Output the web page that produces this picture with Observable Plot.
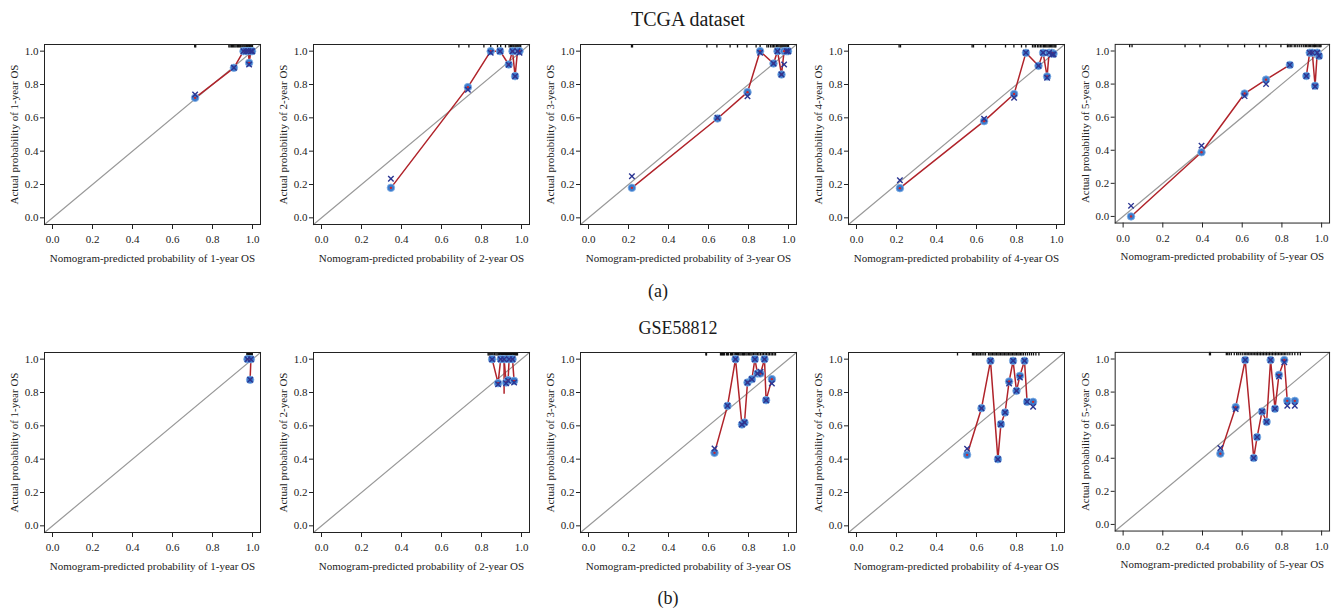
<!DOCTYPE html>
<html><head><meta charset="utf-8">
<script src="https://cdn.jsdelivr.net/npm/d3@7"></script>
<script src="https://cdn.jsdelivr.net/npm/@observablehq/plot@0.6"></script>
<style>
body{margin:0;background:#fff;}
#root{position:relative;width:1337px;height:610px;overflow:hidden;font-family:"Liberation Serif",serif;color:#1a1a1a;background:#fff;}
.t{position:absolute;transform:translate(-50%,-50%);white-space:nowrap;font-size:18px;line-height:1;}
.panel{position:absolute;}
.panel svg, .panel svg text{font-family:"Liberation Serif",serif !important;}
</style></head><body><div id="root"></div>
<script>
// ---------- data ----------
const years = [1, 2, 3, 4, 5];
const probTicks = [0, 0.2, 0.4, 0.6, 0.8, 1.0];
const axisDomain = [-0.04, 1.04];

// TCGA dataset
const tcga1Pred = [0.713, 0.907, 0.955, 0.968, 0.98, 0.983, 0.992, 0.998];
const tcga1Obs  = [0.72, 0.90, 1.0, 1.0, 1.0, 0.93, 1.0, 1.0];
const tcga1Corr = [0.74, 0.90, 1.0, 1.0, 1.0, 0.92, 1.0, 1.0];
const tcga1Rug  = [0.711, 0.716, 0.882, 0.888, 0.895, 0.9, 0.906, 0.912, 0.918, 0.925, 0.93, 0.936, 0.941, 0.947, 0.952, 0.957, 0.962, 0.967, 0.971, 0.976, 0.981, 0.985, 0.989, 0.993, 0.997, 1.0];

const tcga2Pred = [0.347, 0.732, 0.846, 0.893, 0.936, 0.955, 0.968, 0.98, 0.99];
const tcga2Obs  = [0.18, 0.784, 1.0, 1.0, 0.92, 1.0, 0.85, 1.0, 1.0];
const tcga2Corr = [0.234, 0.768, 0.99, 1.0, 0.918, 1.0, 0.85, 1.0, 0.99];
const tcga2Rug  = [0.687, 0.737, 0.812, 0.846, 0.88, 0.896, 0.92, 0.938, 0.945, 0.951, 0.957, 0.962, 0.968, 0.973, 0.978, 0.982, 0.987, 0.992, 0.996];

const tcga3Pred = [0.217, 0.645, 0.795, 0.858, 0.925, 0.945, 0.965, 0.978, 0.99, 0.998];
const tcga3Obs  = [0.18, 0.596, 0.754, 1.0, 0.926, 1.0, 0.86, 1.0, 1.0, 1.0];
const tcga3Corr = [0.25, 0.60, 0.73, 0.99, 0.926, 1.0, 0.86, 0.92, 1.0, 1.0];
const tcga3Rug  = [0.215, 0.22, 0.592, 0.642, 0.708, 0.745, 0.792, 0.838, 0.858, 0.892, 0.9, 0.91, 0.918, 0.925, 0.932, 0.94, 0.946, 0.952, 0.958, 0.963, 0.968, 0.973, 0.978, 0.983, 0.988, 0.993, 0.997, 1.0];

const tcga4Pred = [0.217, 0.638, 0.788, 0.847, 0.91, 0.933, 0.953, 0.963, 0.977, 0.985];
const tcga4Obs  = [0.178, 0.58, 0.743, 0.99, 0.912, 0.99, 0.848, 0.99, 0.99, 0.985];
const tcga4Corr = [0.226, 0.595, 0.72, 0.99, 0.912, 0.99, 0.84, 0.99, 0.98, 0.98];
const tcga4Rug  = [0.213, 0.22, 0.578, 0.585, 0.645, 0.745, 0.787, 0.825, 0.847, 0.88, 0.888, 0.895, 0.905, 0.912, 0.92, 0.927, 0.935, 0.94, 0.946, 0.952, 0.958, 0.964, 0.97, 0.976, 0.982, 0.988, 0.993, 0.997];

const tcga5Pred = [0.04, 0.395, 0.612, 0.72, 0.84, 0.923, 0.94, 0.953, 0.967, 0.978, 0.987];
const tcga5Obs  = [0.0, 0.388, 0.743, 0.827, 0.916, 0.849, 0.99, 0.99, 0.79, 0.99, 0.97];
const tcga5Corr = [0.064, 0.428, 0.727, 0.80, 0.916, 0.849, 0.99, 0.99, 0.785, 0.99, 0.97];
const tcga5Grp  = [0, 0, 0, 0, 0, 1, 1, 1, 1, 1, 1];
const tcga5Rug  = [0.033, 0.045, 0.312, 0.387, 0.528, 0.612, 0.687, 0.72, 0.795, 0.828, 0.835, 0.842, 0.85, 0.862, 0.87, 0.88, 0.89, 0.9, 0.91, 0.918, 0.925, 0.932, 0.938, 0.945, 0.952, 0.958, 0.964, 0.97, 0.976, 0.982, 0.988, 0.993, 0.997];

// GSE58812
const gse1Pred = [0.975, 0.992, 0.988];
const gse1Obs  = [1.0, 1.0, 0.876];
const gse1Corr = [1.0, 1.0, 0.876];
const gse1Rug  = [0.972, 0.975, 0.978, 0.981, 0.984, 0.987, 0.99, 0.993, 0.996, 0.999];

const gse2Pred = [0.853, 0.883, 0.896, 0.913, 0.923, 0.933, 0.938, 0.955, 0.963];
const gse2Obs  = [1.0, 0.856, 1.0, 1.0, 0.86, 0.874, 1.0, 1.0, 0.87];
const gse2Corr = [1.0, 0.85, 1.0, 1.0, 0.855, 0.87, 1.0, 1.0, 0.86];
const gse2ErrX = [0.913];
const gse2ErrLo = [0.79];
const gse2ErrHi = [1.0];
const gse2Rug  = [0.833, 0.838, 0.843, 0.848, 0.853, 0.858, 0.865, 0.872, 0.878, 0.884, 0.89, 0.895, 0.9, 0.905, 0.91, 0.915, 0.92, 0.925, 0.93, 0.935, 0.94, 0.945, 0.95, 0.955, 0.96, 0.965, 0.97, 0.975, 0.98];

const gse3Pred = [0.63, 0.695, 0.735, 0.767, 0.78, 0.795, 0.817, 0.832, 0.845, 0.86, 0.88, 0.888, 0.917];
const gse3Obs  = [0.438, 0.72, 1.0, 0.608, 0.62, 0.86, 0.88, 1.0, 0.914, 0.914, 1.0, 0.754, 0.88];
const gse3Corr = [0.464, 0.72, 1.0, 0.608, 0.62, 0.86, 0.88, 1.0, 0.914, 0.924, 1.0, 0.754, 0.854];
const gse3Rug  = [0.587, 0.59, 0.66, 0.665, 0.67, 0.675, 0.68, 0.69, 0.695, 0.7, 0.71, 0.715, 0.72, 0.728, 0.735, 0.74, 0.745, 0.75, 0.757, 0.763, 0.77, 0.775, 0.78, 0.787, 0.793, 0.8, 0.806, 0.812, 0.818, 0.825, 0.832, 0.838, 0.845, 0.852, 0.86, 0.868, 0.875, 0.883, 0.89, 0.898, 0.905, 0.913, 0.92, 0.928, 0.935];

const gse4Pred = [0.553, 0.625, 0.67, 0.707, 0.722, 0.743, 0.763, 0.783, 0.80, 0.817, 0.84, 0.853, 0.883];
const gse4Obs  = [0.426, 0.706, 0.99, 0.40, 0.61, 0.68, 0.866, 0.99, 0.81, 0.90, 0.99, 0.744, 0.744];
const gse4Corr = [0.462, 0.706, 0.99, 0.40, 0.61, 0.68, 0.854, 0.99, 0.81, 0.89, 0.99, 0.744, 0.714];
const gse4Grp  = [0, 0, 0, 0, 0, 0, 0, 0, 0, 0, 0, 0, 1];
const gse4Rug  = [0.505, 0.58, 0.585, 0.592, 0.6, 0.607, 0.613, 0.62, 0.628, 0.637, 0.645, 0.66, 0.667, 0.673, 0.68, 0.687, 0.693, 0.7, 0.707, 0.713, 0.72, 0.727, 0.733, 0.74, 0.747, 0.753, 0.76, 0.767, 0.773, 0.78, 0.787, 0.793, 0.8, 0.807, 0.813, 0.82, 0.827, 0.835, 0.845, 0.855, 0.865, 0.875, 0.885, 0.897, 0.912];

const gse5Pred = [0.49, 0.567, 0.615, 0.658, 0.675, 0.70, 0.723, 0.743, 0.765, 0.785, 0.812, 0.827, 0.865];
const gse5Obs  = [0.428, 0.709, 0.994, 0.402, 0.528, 0.683, 0.62, 0.994, 0.699, 0.904, 0.994, 0.747, 0.747];
const gse5Corr = [0.462, 0.697, 0.994, 0.402, 0.528, 0.683, 0.62, 0.994, 0.699, 0.894, 0.98, 0.717, 0.717];
const gse5Grp  = [0, 0, 0, 0, 0, 0, 0, 0, 0, 0, 0, 0, 1];
const gse5Rug  = [0.435, 0.44, 0.52, 0.527, 0.535, 0.545, 0.56, 0.572, 0.58, 0.59, 0.6, 0.61, 0.618, 0.625, 0.633, 0.64, 0.648, 0.655, 0.663, 0.67, 0.677, 0.685, 0.692, 0.7, 0.707, 0.715, 0.722, 0.73, 0.737, 0.745, 0.752, 0.76, 0.767, 0.775, 0.782, 0.79, 0.797, 0.805, 0.812, 0.82, 0.83, 0.84, 0.852, 0.865, 0.88, 0.893];

const titles = ["TCGA dataset", "GSE58812"];
const tags = ["(a)", "(b)"];

// ---------- layout ----------
const root = document.getElementById("root");
function addText(txt, x, y, size) {
  const d = document.createElement("div");
  d.className = "t"; d.textContent = txt;
  d.style.left = x + "px"; d.style.top = y + "px"; d.style.fontSize = size + "px";
  root.appendChild(d);
}
addText(titles[0], 688, 19, 20);
addText(tags[0], 658, 291, 18);
addText(titles[1], 678, 328, 18);
addText(tags[1], 668, 598, 18);

const panelLefts = [0, 269, 536, 804, 1071];
const rowTops = [30, 338];

const sets = [
  [
    {pred: tcga1Pred, obs: tcga1Obs, corr: tcga1Corr, rug: tcga1Rug},
    {pred: tcga2Pred, obs: tcga2Obs, corr: tcga2Corr, rug: tcga2Rug},
    {pred: tcga3Pred, obs: tcga3Obs, corr: tcga3Corr, rug: tcga3Rug},
    {pred: tcga4Pred, obs: tcga4Obs, corr: tcga4Corr, rug: tcga4Rug},
    {pred: tcga5Pred, obs: tcga5Obs, corr: tcga5Corr, rug: tcga5Rug, grp: tcga5Grp}
  ],
  [
    {pred: gse1Pred, obs: gse1Obs, corr: gse1Corr, rug: gse1Rug},
    {pred: gse2Pred, obs: gse2Obs, corr: gse2Corr, rug: gse2Rug, errX: gse2ErrX, errLo: gse2ErrLo, errHi: gse2ErrHi},
    {pred: gse3Pred, obs: gse3Obs, corr: gse3Corr, rug: gse3Rug},
    {pred: gse4Pred, obs: gse4Obs, corr: gse4Corr, rug: gse4Rug, grp: gse4Grp},
    {pred: gse5Pred, obs: gse5Obs, corr: gse5Corr, rug: gse5Rug, grp: gse5Grp}
  ]
];

const fmt = d3.format(".1f");
const RED = "#b0232a", BLUE = "#3b7bcc", NAVY = "#2b3592";
const FONT = "Liberation Serif";

sets.forEach((row, ri) => {
  row.forEach((s, ci) => {
    const yr = years[ci];
    const rows = s.pred.map((p, i) => ({p, o: s.obs[i], c: s.corr[i], g: s.grp ? s.grp[i] : 0}));
    const errs = s.errX ? s.errX.map((x, i) => ({x, lo: s.errLo[i], hi: s.errHi[i]})) : [];
    const chart = Plot.plot({
      width: 268, height: 240,
      marginLeft: 44, marginRight: 8, marginTop: 14, marginBottom: 46,
      x: {domain: axisDomain},
      y: {domain: axisDomain},
      style: {fontFamily: FONT, fontSize: "11px", color: "#222", background: "transparent", overflow: "visible"},
      marks: [
        Plot.line(axisDomain, {x: d => d, y: d => d, stroke: "#999", strokeWidth: 1.2}),
        Plot.ruleX(s.rug, {x: d => d, y1: axisDomain[1] - 0.021, y2: axisDomain[1], stroke: "#111", strokeWidth: 1.3}),
        Plot.line(rows, {x: "p", y: "o", z: "g", stroke: RED, strokeWidth: 1.5}),
        Plot.ruleX(errs, {x: "x", y1: "lo", y2: "hi", stroke: RED, strokeWidth: 1.5}),
        Plot.dot(rows, {x: "p", y: "o", r: 3.8, fill: BLUE, stroke: "#86b3e6", strokeWidth: 0.8}),
        Plot.dot(rows, {x: "p", y: "o", r: 1.2, fill: "#c8262c"}),
        Plot.dot(rows, {x: "p", y: "c", symbol: "times", r: 2.6, stroke: NAVY, strokeWidth: 1.4}),
        Plot.frame({stroke: "#222"}),
        Plot.axisX({ticks: probTicks, tickFormat: fmt, tickSize: 5, tickPadding: 6, fontFamily: FONT,
          label: `Nomogram-predicted probability of ${yr}-year OS`, labelAnchor: "center", labelOffset: 37, labelArrow: "none"}),
        Plot.axisY({ticks: probTicks, tickFormat: fmt, tickSize: 4, tickPadding: 2, fontFamily: FONT,
          label: `Actual probability of ${yr}-year OS`, labelAnchor: "center", labelOffset: 34, labelArrow: "none"})
      ]
    });
    const wrap = document.createElement("div");
    wrap.className = "panel";
    wrap.style.left = panelLefts[ci] + "px";
    wrap.style.top = rowTops[ri] + "px";
    wrap.appendChild(chart);
    root.appendChild(wrap);
  });
});
</script></body></html>
